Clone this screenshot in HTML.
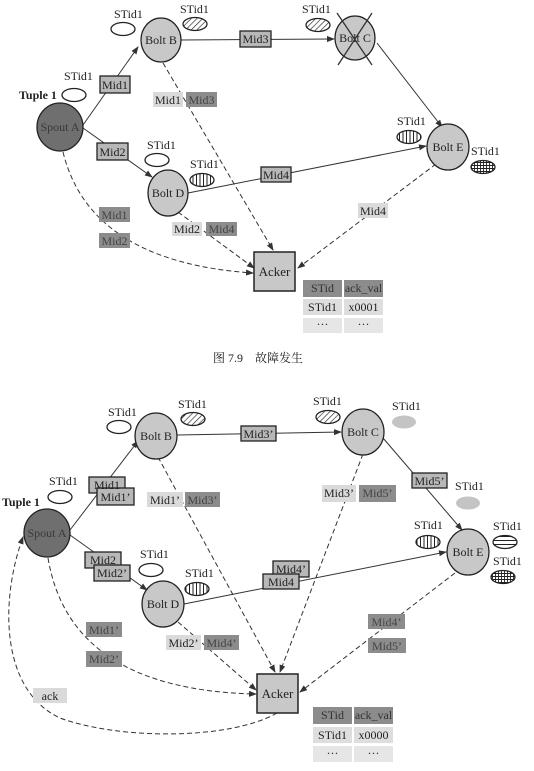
<!DOCTYPE html>
<html><head><meta charset="utf-8"><style>
html,body{margin:0;padding:0;background:#fff;}
svg{display:block;}
text{font-family:"Liberation Serif","Noto Serif CJK SC",serif;font-size:12px;fill:#222;}
.ak{font-size:13px;}
</style></head><body>
<svg width="534" height="771" viewBox="0 0 534 771" xmlns="http://www.w3.org/2000/svg">
<defs>
<marker id="ar" markerWidth="8" markerHeight="6" refX="7" refY="3" orient="auto" markerUnits="userSpaceOnUse"><path d="M0,0 L8,3 L0,6 z" fill="#333"/></marker>
<pattern id="pd" width="4" height="4" patternUnits="userSpaceOnUse" patternTransform="rotate(45)"><rect width="4" height="4" fill="#fff"/><line x1="0" y1="0" x2="0" y2="4" stroke="#222" stroke-width="1.3"/></pattern>
<pattern id="pv" width="3.5" height="4" patternUnits="userSpaceOnUse"><rect width="4" height="4" fill="#fff"/><line x1="0.5" y1="0" x2="0.5" y2="4" stroke="#222" stroke-width="1"/></pattern>
<pattern id="ph" width="4" height="4" patternUnits="userSpaceOnUse"><rect width="4" height="4" fill="#fff"/><line x1="0" y1="0.5" x2="4" y2="0.5" stroke="#222" stroke-width="1"/></pattern>
<pattern id="pg" width="3" height="3" patternUnits="userSpaceOnUse"><rect width="3" height="3" fill="#fff"/><path d="M0.5,0 V3 M0,0.5 H3" stroke="#222" stroke-width="0.9"/></pattern>
</defs>

<!-- ============ TOP DIAGRAM ============ -->
<g stroke="#333" stroke-width="1" fill="none">
<line x1="83" y1="125" x2="138" y2="47" marker-end="url(#ar)"/>
<line x1="83" y1="128" x2="152" y2="177" marker-end="url(#ar)"/>
<line x1="181" y1="40" x2="334" y2="39" marker-end="url(#ar)"/>
<line x1="377" y1="43" x2="442" y2="127" marker-end="url(#ar)"/>
<line x1="188" y1="193" x2="426" y2="146" marker-end="url(#ar)"/>
<g stroke-dasharray="5,3">
<line x1="163" y1="63" x2="273" y2="250" marker-end="url(#ar)"/>
<line x1="178" y1="212" x2="254" y2="268" marker-end="url(#ar)"/>
<line x1="436" y1="164" x2="298" y2="268" marker-end="url(#ar)"/>
<path d="M63,152 Q90,262 253,273" marker-end="url(#ar)"/>
</g>
</g>
<ellipse cx="60" cy="127" rx="23" ry="24" fill="#6f6f6f" stroke="#222" stroke-width="1.3"/>
<text x="60" y="131" text-anchor="middle" style="fill:#3a3a3a">Spout A</text>
<ellipse cx="161" cy="40" rx="20" ry="22" fill="#c8c8c8" stroke="#222" stroke-width="1.3"/>
<text x="161" y="44" text-anchor="middle">Bolt B</text>
<ellipse cx="355" cy="38" rx="20" ry="22" fill="#c8c8c8" stroke="#222" stroke-width="1.3"/>
<text x="355" y="42" text-anchor="middle">Bolt C</text>
<line x1="337" y1="13" x2="372" y2="65" stroke="#333" stroke-width="1.3"/>
<line x1="372" y1="13" x2="338" y2="65" stroke="#333" stroke-width="1.3"/>
<ellipse cx="168" cy="193" rx="20" ry="23" fill="#c8c8c8" stroke="#222" stroke-width="1.3"/>
<text x="168" y="197" text-anchor="middle">Bolt D</text>
<ellipse cx="448" cy="147" rx="21" ry="23" fill="#c8c8c8" stroke="#222" stroke-width="1.3"/>
<text x="448" y="151" text-anchor="middle">Bolt E</text>
<rect x="254" y="252" width="41" height="39" fill="#c8c8c8" stroke="#222" stroke-width="1.5"/>
<text x="274.5" y="276" text-anchor="middle" class="ak">Acker</text>

<text x="19" y="99" style="font-weight:bold;font-size:12px">Tuple 1</text>
<text x="64" y="80">STid1</text><ellipse cx="74" cy="95" rx="12" ry="6.5" fill="#fff" stroke="#222" stroke-width="1.3"/>
<text x="114" y="18">STid1</text><ellipse cx="123" cy="29" rx="12" ry="6.5" fill="#fff" stroke="#222" stroke-width="1.3"/>
<text x="180" y="13">STid1</text><ellipse cx="195" cy="24" rx="12" ry="6.5" fill="url(#pd)" stroke="#222" stroke-width="1.3"/>
<text x="302" y="13">STid1</text><ellipse cx="318" cy="25" rx="12" ry="6.5" fill="url(#pd)" stroke="#222" stroke-width="1.3"/>
<text x="147" y="149">STid1</text><ellipse cx="157" cy="160" rx="12" ry="6.5" fill="#fff" stroke="#222" stroke-width="1.3"/>
<text x="190" y="168">STid1</text><ellipse cx="202" cy="180" rx="12" ry="6.5" fill="url(#pv)" stroke="#222" stroke-width="1.3"/>
<text x="397" y="125">STid1</text><ellipse cx="409" cy="137" rx="12" ry="6.5" fill="url(#pv)" stroke="#222" stroke-width="1.3"/>
<text x="471" y="155">STid1</text><ellipse cx="483" cy="167" rx="12" ry="6.5" fill="url(#pg)" stroke="#222" stroke-width="1.3"/>

<g stroke="#222" stroke-width="1.3">
<rect x="100" y="76" width="30" height="17" fill="#b8b8b8"/>
<rect x="240" y="31" width="31" height="16" fill="#b8b8b8"/>
<rect x="97" y="143" width="31" height="17" fill="#b8b8b8"/>
<rect x="261" y="167" width="30" height="15" fill="#b8b8b8"/>
</g>
<text x="115" y="89" text-anchor="middle">Mid1</text>
<text x="255.5" y="43" text-anchor="middle">Mid3</text>
<text x="112.5" y="156" text-anchor="middle">Mid2</text>
<text x="276" y="179" text-anchor="middle">Mid4</text>
<rect x="153" y="92" width="30" height="15" fill="#dadada"/><text x="168" y="104" text-anchor="middle">Mid1</text>
<rect x="186" y="92" width="31" height="15" fill="#8c8c8c"/><text x="201.5" y="104" text-anchor="middle" style="fill:#444">Mid3</text>
<rect x="99" y="207" width="31" height="15" fill="#8c8c8c"/><text x="114.5" y="219" text-anchor="middle" style="fill:#444">Mid1</text>
<rect x="99" y="233" width="31" height="15" fill="#8c8c8c"/><text x="114.5" y="245" text-anchor="middle" style="fill:#444">Mid2</text>
<rect x="172" y="222" width="30" height="14" fill="#dadada"/><text x="187" y="233" text-anchor="middle">Mid2</text>
<rect x="206" y="222" width="31" height="14" fill="#8c8c8c"/><text x="221.5" y="233" text-anchor="middle" style="fill:#444">Mid4</text>
<rect x="358" y="203" width="30" height="15" fill="#dadada"/><text x="373" y="215" text-anchor="middle">Mid4</text>

<rect x="303" y="280" width="39" height="17" fill="#8c8c8c"/><text x="322.5" y="292" text-anchor="middle" style="fill:#333">STid</text>
<rect x="344" y="280" width="39" height="17" fill="#8c8c8c"/><text x="363.5" y="292" text-anchor="middle" style="fill:#333">ack_val</text>
<rect x="303" y="299" width="39" height="16" fill="#dedede"/><text x="322.5" y="311" text-anchor="middle">STid1</text>
<rect x="344" y="299" width="39" height="16" fill="#dedede"/><text x="363.5" y="311" text-anchor="middle">x0001</text>
<rect x="303" y="318" width="39" height="15" fill="#e6e6e6"/><text x="322.5" y="328" text-anchor="middle">···</text>
<rect x="344" y="318" width="39" height="15" fill="#e6e6e6"/><text x="363.5" y="328" text-anchor="middle">···</text>

<text x="213" y="362" style="font-size:12px">图 7.9　故障发生</text>

<!-- ============ BOTTOM DIAGRAM ============ -->
<g stroke="#333" stroke-width="1" fill="none">
<line x1="70" y1="530" x2="138" y2="441" marker-end="url(#ar)"/>
<line x1="70" y1="535" x2="147" y2="590" marker-end="url(#ar)"/>
<line x1="177" y1="435" x2="341" y2="432" marker-end="url(#ar)"/>
<line x1="383" y1="438" x2="462" y2="530" marker-end="url(#ar)"/>
<line x1="184" y1="604" x2="446" y2="552" marker-end="url(#ar)"/>
<g stroke-dasharray="5,3">
<line x1="158" y1="457" x2="275" y2="672" marker-end="url(#ar)"/>
<line x1="363" y1="454" x2="280" y2="672" marker-end="url(#ar)"/>
<line x1="178" y1="622" x2="256" y2="690" marker-end="url(#ar)"/>
<line x1="455" y1="573" x2="300" y2="692" marker-end="url(#ar)"/>
<path d="M48,558 Q70,690 256,694" marker-end="url(#ar)"/>
<path d="M277,713 C230,740 120,740 60,718 C0,690 0,600 23,537" marker-end="url(#ar)"/>
</g>
</g>
<ellipse cx="47" cy="533" rx="23" ry="24" fill="#6f6f6f" stroke="#222" stroke-width="1.3"/>
<text x="47" y="537" text-anchor="middle" style="fill:#3a3a3a">Spout A</text>
<ellipse cx="156" cy="436" rx="21" ry="23" fill="#c8c8c8" stroke="#222" stroke-width="1.3"/>
<text x="156" y="440" text-anchor="middle">Bolt B</text>
<ellipse cx="363" cy="432" rx="21" ry="23" fill="#c8c8c8" stroke="#222" stroke-width="1.3"/>
<text x="363" y="436" text-anchor="middle">Bolt C</text>
<ellipse cx="163" cy="604" rx="21" ry="23" fill="#c8c8c8" stroke="#222" stroke-width="1.3"/>
<text x="163" y="608" text-anchor="middle">Bolt D</text>
<ellipse cx="468" cy="552" rx="21" ry="23" fill="#c8c8c8" stroke="#222" stroke-width="1.3"/>
<text x="468" y="556" text-anchor="middle">Bolt E</text>
<rect x="257" y="674" width="41" height="39" fill="#c8c8c8" stroke="#222" stroke-width="1.5"/>
<text x="277.5" y="698" text-anchor="middle" class="ak">Acker</text>

<text x="2" y="506" style="font-weight:bold;font-size:12px">Tuple 1</text>
<text x="49" y="485">STid1</text><ellipse cx="60" cy="497" rx="12" ry="6.5" fill="#fff" stroke="#222" stroke-width="1.3"/>
<text x="108" y="416">STid1</text><ellipse cx="119" cy="427" rx="12" ry="6.5" fill="#fff" stroke="#222" stroke-width="1.3"/>
<text x="178" y="408">STid1</text><ellipse cx="193" cy="419" rx="12" ry="6.5" fill="url(#pd)" stroke="#222" stroke-width="1.3"/>
<text x="313" y="405">STid1</text><ellipse cx="328" cy="417" rx="12" ry="6.5" fill="url(#pd)" stroke="#222" stroke-width="1.3"/>
<text x="392" y="410">STid1</text><ellipse cx="404" cy="422" rx="12" ry="6.5" fill="#c4c4c4"/>
<text x="455" y="490">STid1</text><ellipse cx="468" cy="503" rx="12" ry="6.5" fill="#c4c4c4"/>
<text x="414" y="529">STid1</text><ellipse cx="428" cy="542" rx="12" ry="6.5" fill="url(#pv)" stroke="#222" stroke-width="1.3"/>
<text x="493" y="530">STid1</text><ellipse cx="505" cy="542" rx="12" ry="6.5" fill="url(#ph)" stroke="#222" stroke-width="1.3"/>
<text x="493" y="565">STid1</text><ellipse cx="503" cy="577" rx="12" ry="6.5" fill="url(#pg)" stroke="#222" stroke-width="1.3"/>
<text x="140" y="558">STid1</text><ellipse cx="151" cy="570" rx="12" ry="6.5" fill="#fff" stroke="#222" stroke-width="1.3"/>
<text x="185" y="577">STid1</text><ellipse cx="197" cy="589" rx="12" ry="6.5" fill="url(#pv)" stroke="#222" stroke-width="1.3"/>

<g stroke="#222" stroke-width="1.3" fill="#b8b8b8">
<rect x="89" y="477" width="36" height="16"/>
<rect x="97" y="488" width="37" height="17"/>
<rect x="241" y="426" width="35" height="15"/>
<rect x="412" y="473" width="35" height="15"/>
<rect x="85" y="552" width="36" height="16"/>
<rect x="94" y="565" width="36" height="16"/>
<rect x="273" y="561" width="36" height="16"/>
<rect x="263" y="574" width="36" height="15"/>
</g>
<text x="107" y="489" text-anchor="middle">Mid1</text>
<text x="115.5" y="501" text-anchor="middle">Mid1’</text>
<text x="258.5" y="438" text-anchor="middle">Mid3’</text>
<text x="429.5" y="485" text-anchor="middle">Mid5’</text>
<text x="103" y="564" text-anchor="middle">Mid2</text>
<text x="112" y="577" text-anchor="middle">Mid2’</text>
<text x="291" y="573" text-anchor="middle">Mid4’</text>
<text x="281" y="586" text-anchor="middle">Mid4</text>

<rect x="147" y="492" width="36" height="15" fill="#dadada"/><text x="165" y="504" text-anchor="middle">Mid1’</text>
<rect x="185" y="492" width="35" height="15" fill="#8c8c8c"/><text x="202.5" y="504" text-anchor="middle" style="fill:#444">Mid3’</text>
<rect x="322" y="485" width="34" height="17" fill="#dadada"/><text x="339" y="497" text-anchor="middle">Mid3’</text>
<rect x="359" y="485" width="37" height="17" fill="#8c8c8c"/><text x="377.5" y="497" text-anchor="middle" style="fill:#444">Mid5’</text>
<rect x="86" y="622" width="36" height="15" fill="#8c8c8c"/><text x="104" y="634" text-anchor="middle" style="fill:#444">Mid1’</text>
<rect x="86" y="651" width="36" height="16" fill="#8c8c8c"/><text x="104" y="663" text-anchor="middle" style="fill:#444">Mid2’</text>
<rect x="166" y="635" width="35" height="15" fill="#dadada"/><text x="183.5" y="647" text-anchor="middle">Mid2’</text>
<rect x="204" y="635" width="35" height="15" fill="#8c8c8c"/><text x="221.5" y="647" text-anchor="middle" style="fill:#444">Mid4’</text>
<rect x="368" y="614" width="37" height="15" fill="#8c8c8c"/><text x="386.5" y="626" text-anchor="middle" style="fill:#444">Mid4’</text>
<rect x="368" y="638" width="38" height="15" fill="#8c8c8c"/><text x="387" y="650" text-anchor="middle" style="fill:#444">Mid5’</text>
<rect x="33" y="688" width="34" height="15" fill="#dadada"/><text x="50" y="700" text-anchor="middle">ack</text>

<rect x="313" y="707" width="39" height="17" fill="#8c8c8c"/><text x="332.5" y="719" text-anchor="middle" style="fill:#333">STid</text>
<rect x="354" y="707" width="39" height="17" fill="#8c8c8c"/><text x="373.5" y="719" text-anchor="middle" style="fill:#333">ack_val</text>
<rect x="313" y="727" width="39" height="16" fill="#dedede"/><text x="332.5" y="739" text-anchor="middle">STid1</text>
<rect x="354" y="727" width="39" height="16" fill="#dedede"/><text x="373.5" y="739" text-anchor="middle">x0000</text>
<rect x="313" y="746" width="39" height="16" fill="#e6e6e6"/><text x="332.5" y="757" text-anchor="middle">···</text>
<rect x="354" y="746" width="39" height="16" fill="#e6e6e6"/><text x="373.5" y="757" text-anchor="middle">···</text>
</svg>
</body></html>
